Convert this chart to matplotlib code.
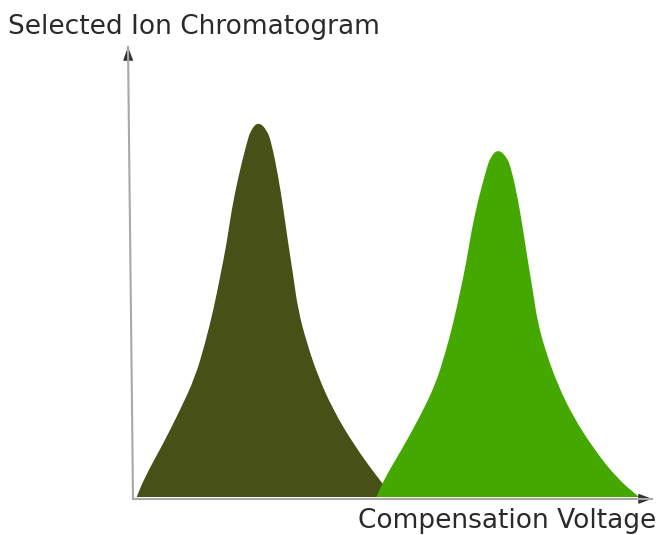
import matplotlib
matplotlib.use("Agg")
import matplotlib.pyplot as plt
from matplotlib.path import Path
from matplotlib.patches import PathPatch

# Peak 1 outline (compensation voltage, relative intensity), left flank -> apex -> right flank
peak1_x = [0.71, 2.31, 5.84, 9.06, 12.0, 13.9, 15.5, 16.8, 18.05, 19.0, 20.3, 21.9, 22.7,
           24.14,
           25.8, 26.7, 28.0, 29.0, 29.9, 30.9, 31.8, 33.5, 35.7, 38.6, 42.4, 47.0, 50.2]
peak1_y = [0.0, 4.5, 11.9, 19.3, 26.7, 34.2, 41.6, 49.0, 56.4, 63.8, 71.2, 78.6, 81.6,
           83.4,
           81.6, 78.6, 71.2, 63.8, 56.4, 49.0, 41.6, 34.2, 26.7, 19.3, 11.9, 4.5, 0.0]

# Peak 2 outline
peak2_x = [46.9, 48.5, 52.0, 55.3, 58.2, 60.1, 61.7, 63.0, 64.25, 65.2, 66.5, 68.1, 68.9,
           70.34,
           72.0, 72.9, 74.2, 75.2, 76.1, 77.1, 78.0, 79.7, 81.9, 84.8, 88.6, 93.2, 97.5]
peak2_y = [0.0, 4.2, 11.0, 17.9, 24.8, 31.7, 38.6, 45.4, 52.3, 59.1, 66.0, 72.9, 75.6,
           77.3,
           75.6, 72.9, 66.0, 59.1, 52.3, 45.4, 38.6, 31.7, 24.8, 17.9, 11.0, 4.2, 0.0]

y_label = "Selected Ion Chromatogram"
x_label = "Compensation Voltage"

W, H = 659, 535
fig = plt.figure(figsize=(W / 100, H / 100), dpi=100)
fig.patch.set_facecolor("white")

left, right, top, bottom = 133, 652, 47, 497
ax = fig.add_axes([left / W, (H - bottom) / H, (right - left) / W, (bottom - top) / H])
ax.set_xlim(0, 100)
ax.set_ylim(0, 100)
ax.axis("off")


def smooth_peak(xs, ys, color, z):
    pts = list(zip(xs, ys))
    verts = [pts[0]]
    codes = [Path.MOVETO]
    mids = [((pts[i][0] + pts[i + 1][0]) / 2, (pts[i][1] + pts[i + 1][1]) / 2)
            for i in range(len(pts) - 1)]
    verts.append(mids[0]); codes.append(Path.LINETO)
    for i in range(1, len(pts) - 1):
        verts += [pts[i], mids[i]]
        codes += [Path.CURVE3, Path.CURVE3]
    verts.append(pts[-1]); codes.append(Path.LINETO)
    verts.append(pts[0]); codes.append(Path.CLOSEPOLY)
    ax.add_patch(PathPatch(Path(verts, codes), facecolor=color, edgecolor="none",
                           lw=0, zorder=z))


smooth_peak(peak1_x, peak1_y, "#475017", 2)
smooth_peak(peak2_x, peak2_y, "#44a800", 3)

# axes lines with arrowheads (axes-fraction coordinates)
dx_top = -5 / (right - left)
ax.plot([0, dx_top], [0, 1], transform=ax.transAxes, color="#a8a8a8", lw=1.5,
        clip_on=False, zorder=4)
ax.annotate("", xy=(dx_top, 1.0), xytext=(dx_top * 0.97, 0.97),
            xycoords="axes fraction", textcoords="axes fraction",
            arrowprops=dict(arrowstyle="-|>,head_length=0.8,head_width=0.3",
                            color="#333333", lw=1.0, shrinkA=0, shrinkB=0))
ax.plot([0, 1], [-0.004, -0.004], transform=ax.transAxes, color="#a8a8a8", lw=1.5,
        clip_on=False, zorder=4)
ax.annotate("", xy=(1.0, -0.004), xytext=(0.975, -0.004),
            xycoords="axes fraction", textcoords="axes fraction",
            arrowprops=dict(arrowstyle="-|>,head_length=0.8,head_width=0.3",
                            color="#333333", lw=1.0, shrinkA=0, shrinkB=0))

fig.text(8 / W, 1 - 27 / H, y_label, fontsize=19, color="#2a2a2a",
         ha="left", va="center", family="DejaVu Sans")
fig.text(656 / W, 1 - 521 / H, x_label, fontsize=19, color="#2a2a2a",
         ha="right", va="center", family="DejaVu Sans")

fig.savefig("out.png", dpi=100, facecolor="white")
